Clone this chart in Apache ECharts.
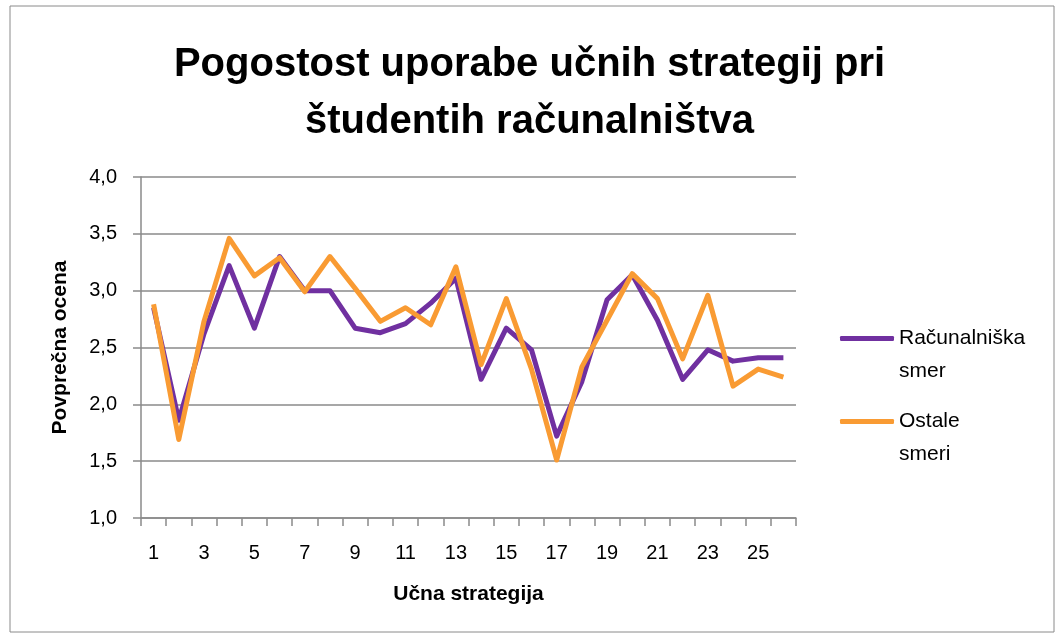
<!DOCTYPE html>
<html>
<head>
<meta charset="utf-8">
<script src="https://cdn.jsdelivr.net/npm/echarts@6/dist/echarts.min.js"></script>
<style>
  html, body { margin: 0; padding: 0; background: #fff; }
  #myChart { width: 1059px; height: 637px; }
</style>
</head>
<body>
<div id="myChart"></div>
<script>
// učne strategije 1..26
var strategije = ["1","2","3","4","5","6","7","8","9","10","11","12","13",
  "14","15","16","17","18","19","20","21","22","23","24","25","26"];
// povprečne ocene - računalniška smer
var racunalniska = [2.85, 1.86, 2.62, 3.22, 2.67, 3.30, 3.00, 3.00, 2.67, 2.63, 2.71, 2.89, 3.11,
  2.22, 2.67, 2.48, 1.72, 2.20, 2.92, 3.14, 2.74, 2.22, 2.48, 2.38, 2.41, 2.41];
// povprečne ocene - ostale smeri
var ostale = [2.88, 1.69, 2.73, 3.46, 3.13, 3.29, 2.99, 3.30, 3.02, 2.73, 2.85, 2.70, 3.21,
  2.35, 2.93, 2.31, 1.51, 2.33, 2.74, 3.15, 2.93, 2.40, 2.96, 2.16, 2.31, 2.24];
var seriesNames = ["Računalniška smer", "Ostale smeri"];
// prazna prva vrstica, da je ikona poravnana s prvo vrstico besedila
var legendLabels = { "Računalniška smer": " \nRačunalniška\nsmer", "Ostale smeri": " \nOstale\nsmeri" };

var font = "'Liberation Sans', sans-serif";
var gridColor = "#8a8a8a";
var purple = "#7030A0";
var orange = "#F99B33";

function makeLegend(name, top, color) {
  return {
    data: [name],
    orient: "vertical",
    left: 840,
    top: top,
    padding: 0,
    icon: "roundRect",
    itemWidth: 54,
    itemHeight: 5,
    itemGap: 0,
    itemStyle: { color: color },
    formatter: function(n) { return legendLabels[n]; },
    textStyle: {
      fontFamily: font,
      fontSize: 21,
      color: "#000",
      lineHeight: 33
    }
  };
}

var option = {
  backgroundColor: "#fff",
  animation: false,
  title: {
    text: "Pogostost uporabe učnih strategij pri\nštudentih računalništva",
    left: "center",
    top: 31,
    textStyle: {
      fontFamily: font,
      fontWeight: "bold",
      fontSize: 40,
      lineHeight: 57,
      color: "#000"
    }
  },
  graphic: [{
    type: "rect",
    shape: { x: 10, y: 6, width: 1044, height: 626 },
    style: { fill: "none", stroke: "#8a8a8a", lineWidth: 1 }
  }],
  legend: [
    makeLegend(seriesNames[0], 289, purple),
    makeLegend(seriesNames[1], 372, orange)
  ],
  grid: {
    left: 141,
    right: 263,
    top: 177,
    bottom: 119
  },
  xAxis: {
    type: "category",
    data: strategije,
    boundaryGap: true,
    name: "Učna strategija",
    nameLocation: "middle",
    nameGap: 66,
    nameTextStyle: {
      fontFamily: font,
      fontWeight: "bold",
      fontSize: 21,
      color: "#000"
    },
    axisLine: { lineStyle: { color: gridColor, width: 1.5 } },
    axisTick: { show: true, length: 8, interval: 0, lineStyle: { color: gridColor, width: 1.5 } },
    axisLabel: {
      interval: 1,
      margin: 25,
      fontFamily: font,
      fontSize: 20,
      color: "#000"
    },
    splitLine: { show: false }
  },
  yAxis: {
    type: "value",
    min: 1,
    max: 4,
    interval: 0.5,
    name: "Povprečna ocena",
    nameLocation: "middle",
    nameGap: 70,
    nameTextStyle: {
      fontFamily: font,
      fontWeight: "bold",
      fontSize: 21,
      color: "#000"
    },
    axisLine: { show: true, lineStyle: { color: gridColor, width: 1.5 } },
    axisTick: { show: true, length: 8, lineStyle: { color: gridColor, width: 1.5 } },
    axisLabel: {
      margin: 24,
      fontFamily: font,
      fontSize: 20,
      color: "#000",
      formatter: function(v) { return v.toFixed(1).replace(".", ","); }
    },
    splitLine: { show: true, lineStyle: { color: gridColor, width: 1.5 } }
  },
  series: [
    {
      name: seriesNames[0],
      type: "line",
      data: racunalniska,
      symbol: "none",
      color: purple,
      lineStyle: { width: 5, color: purple, join: "round" }
    },
    {
      name: seriesNames[1],
      type: "line",
      data: ostale,
      symbol: "none",
      color: orange,
      lineStyle: { width: 5, color: orange, join: "round" }
    }
  ]
};

var myChart = echarts.init(document.getElementById("myChart"));
myChart.setOption(option);
</script>
</body>
</html>
